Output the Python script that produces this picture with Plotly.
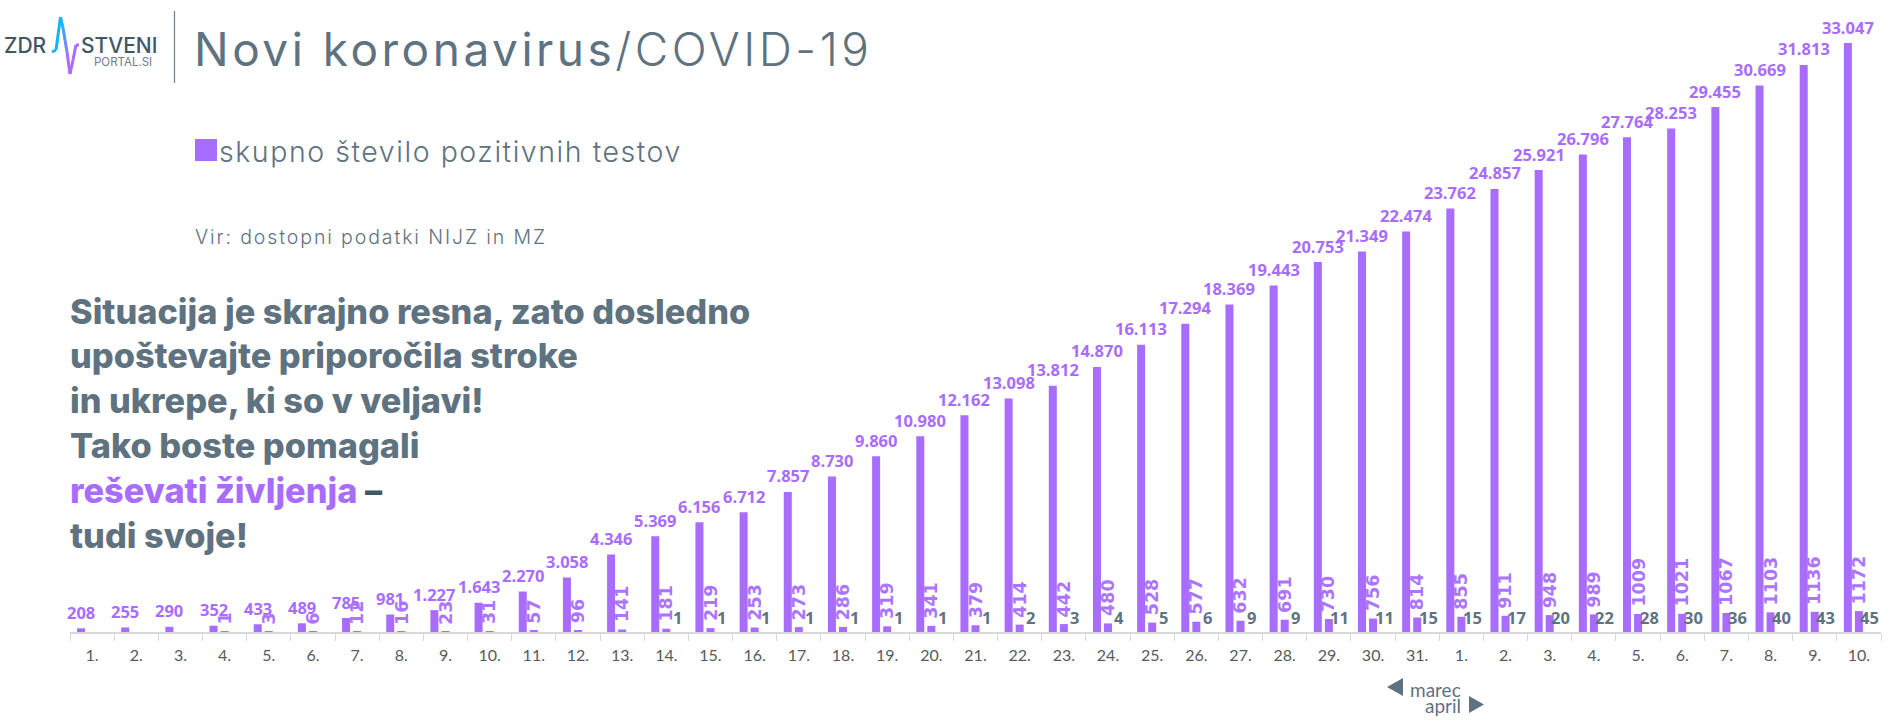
import plotly.graph_objects as go

# ---------- data ----------
day_labels = ["1.","2.","3.","4.","5.","6.","7.","8.","9.","10.","11.","12.","13.","14.","15.","16.","17.","18.","19.","20.",
              "21.","22.","23.","24.","25.","26.","27.","28.","29.","30.","31.",
              "1.","2.","3.","4.","5.","6.","7.","8.","9.","10."]
tests = [208,255,290,352,433,489,785,981,1227,1643,2270,3058,4346,5369,6156,6712,7857,8730,9860,10980,
         12162,13098,13812,14870,16113,17294,18369,19443,20753,21349,22474,
         23762,24857,25921,26796,27764,28253,29455,30669,31813,33047]
positive = [None,None,None,1,3,6,12,16,23,31,57,96,141,181,219,253,273,286,319,341,
            379,414,442,480,528,577,632,691,730,756,814,
            855,911,948,989,1009,1021,1067,1103,1136,1172]
deaths = [None]*13 + [1,1,1,1,1,1,1,1,2,3,4,5,6,9,9,11,11,15,
                      15,17,20,22,28,30,36,40,43,45]

headline_lines = ["Situacija je skrajno resna, zato dosledno",
                  "upoštevajte priporočila stroke",
                  "in ukrepe, ki so v veljavi!",
                  "Tako boste pomagali",
                  "<span style='color:#A86CFF'>reševati življenja</span> <span style='color:#425766'>–</span>",
                  "tudi svoje!"]
headline_baselines = [323, 367, 412, 457, 502, 547]

# ---------- style ----------
PURPLE = "#A86CFF"
SLATE = "#5F7280"
W, H = 1890, 720
L, R, B = 70, 9, 88
AXIS_Y = H - B
Y_MAX = 33047 * AXIS_Y / 589
x_idx = list(range(len(day_labels)))

def px(x):
    return (x - L) / (W - L - R)
def py(y):
    return (AXIS_Y - y) / AXIS_Y

fig = go.Figure()
fig.add_bar(x=x_idx, y=tests, name="skupno število pozitivnih testov", marker_color=PURPLE, marker_line_width=0)
fig.add_bar(x=x_idx, y=positive, name="hospitalizirani", marker_color=PURPLE, marker_line_width=0)
fig.add_bar(x=x_idx, y=deaths, name="umrli", marker_color="rgba(0,0,0,0)", marker_line_width=0)

ann = []
def fmt(v):
    return f"{v:,}".replace(",", ".")

for i, v in enumerate(tests):
    ann.append(dict(x=i - 0.25, y=v, xref="x", yref="y", text=fmt(v), showarrow=False, yanchor="middle",
                    yshift=16, font=dict(family="Open Sans", size=16.5, color=PURPLE, weight=700)))
for i, v in enumerate(positive):
    if v is None:
        continue
    ann.append(dict(x=i, y=v, xref="x", yref="y", text=str(v), showarrow=False, textangle=-90, yanchor="bottom",
                    yshift=5, font=dict(family="DejaVu Sans", size=17.5, color="#AC74FF", weight=700)))
for i, v in enumerate(deaths):
    if v is None:
        continue
    ann.append(dict(x=i + 0.25, y=0, xref="x", yref="y", text=str(v), showarrow=False, yanchor="middle",
                    yshift=15, font=dict(family="Open Sans", size=16.5, color=SLATE, weight=700)))

def text_px(x, y, s, size, family="Inter", color=SLATE, weight=400, xanchor="left", yanchor="middle"):
    ann.append(dict(x=px(x), y=py(y), xref="paper", yref="paper", text=s, showarrow=False, xanchor=xanchor,
                    yanchor=yanchor, align="left", borderpad=0,
                    font=dict(family=family, size=size, color=color, weight=weight)))

def spaced(s, gap):
    return f"<span style='letter-spacing:{gap}px'>{s}</span>"

# header
text_px(193, 49, "<span style='letter-spacing:3.5px'>Novi koronavirus</span>"
                 "<span style='letter-spacing:3.5px;font-weight:300'>/COVID-19</span>", 46, weight=400)
text_px(218, 152, spaced("skupno število pozitivnih testov", 1.55), 28.5, weight=300)
text_px(194, 237, spaced("Vir: dostopni podatki NIJZ in MZ", 1.9), 19.5, weight=300)
# logo text
text_px(3, 45, "ZDR", 21, color="#425766", weight=500)
text_px(80, 45, "STVENI", 21, color="#425766", weight=500)
text_px(93, 62, "PORTAL.SI", 11.5, color="#6C7E8B", weight=400)
# headline
for line, base in zip(headline_lines, headline_baselines):
    text_px(69, base - 12, line, 34.3, weight=800)
# month markers
text_px(1462, 689, "marec", 19, family="Lato", xanchor="right")
text_px(1462, 705, "april", 19, family="Lato", xanchor="right")

shapes = []
def poly(points, fill):
    d = "M " + " L ".join(f"{px(a):.5f} {py(b):.5f}" for a, b in points) + " Z"
    shapes.append(dict(type="path", xref="paper", yref="paper", path=d, fillcolor=fill, line_width=0, layer="above"))
def seg(a, b, color, w=3):
    shapes.append(dict(type="line", xref="paper", yref="paper", x0=px(a[0]), y0=py(a[1]), x1=px(b[0]), y1=py(b[1]),
                       line=dict(color=color, width=w)))

poly([(195, 139), (217, 139), (217, 161), (195, 161)], PURPLE)         # legend swatch
poly([(1403, 678), (1403, 696), (1387, 687)], SLATE)                   # left arrow
poly([(1469, 696), (1469, 713), (1484, 704.5)], SLATE)                 # right arrow
seg((174.5, 11), (174.5, 83), "#6E7F8C", 1.2)                          # logo separator

# logo pulse
seg((52, 52), (56, 50), "#12B6F2")
seg((56, 50), (60.5, 17), "#12B6F2")
seg((60.5, 17), (63, 28), "#26B0F4")
seg((63, 28), (65, 40), "#4A9CF7")
seg((65, 40), (67, 52), "#7188FB")
seg((67, 52), (70, 74), "#A86CFF")
seg((70, 74), (73, 60), "#A86CFF")
seg((73, 60), (76, 45), "#A86CFF")
seg((76, 45), (79, 45), "#A86CFF")

fig.update_layout(
    width=W, height=H, margin=dict(l=L, r=R, t=0, b=B, pad=0), autosize=False,
    paper_bgcolor="white", plot_bgcolor="white", showlegend=False,
    barmode="group", bargap=0.25, bargroupgap=0.275,
    annotations=ann, shapes=shapes,
    xaxis=dict(range=[-0.5, 40.5], tickmode="array", tickvals=x_idx, ticktext=day_labels, ticks="", showgrid=False,
               zeroline=False, showline=True, linecolor="#D9D9D9", linewidth=2, ticklabelstandoff=8,
               tickfont=dict(family="Lato", size=16, color="#595959"),
               minor=dict(tickmode="array", tickvals=[i - 0.5 for i in range(len(day_labels) + 1)],
                          ticks="outside", ticklen=7, tickcolor="#D9D9D9", tickwidth=1, showgrid=False)),
    yaxis=dict(range=[0, Y_MAX], visible=False, showgrid=False, zeroline=False),
)
fig.write_html("out.html", config=dict(displayModeBar=False),
               post_script="document.body.style.margin='0';document.body.style.overflow='hidden';")
